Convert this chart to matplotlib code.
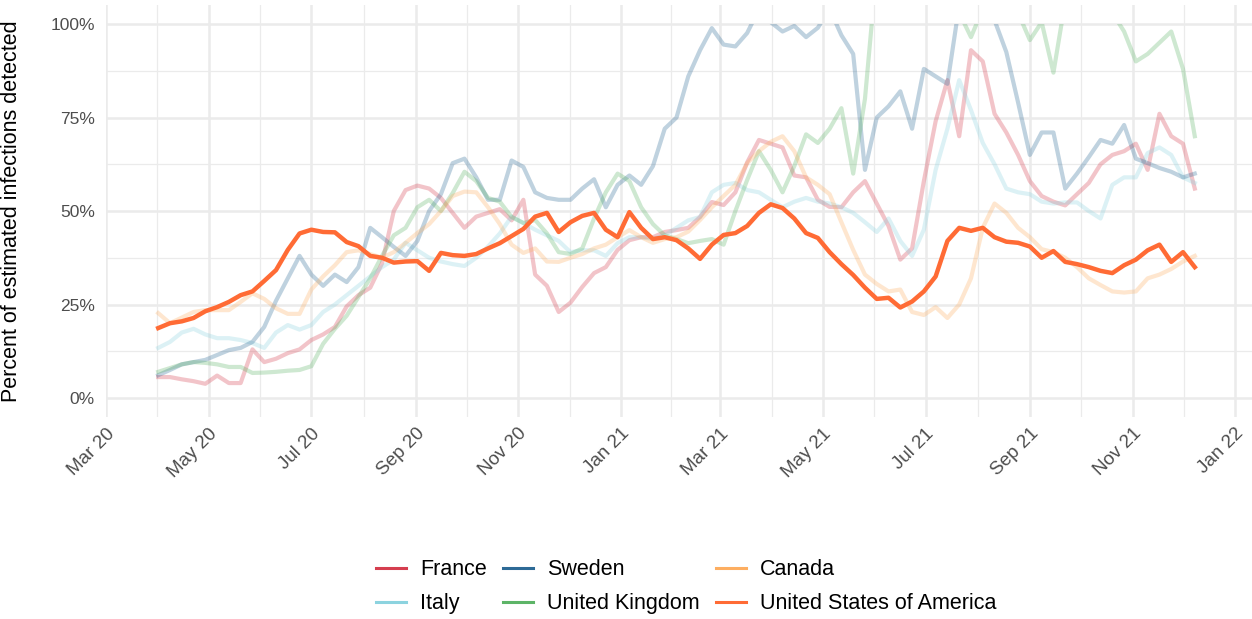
import numpy as np
import pandas as pd
import matplotlib
matplotlib.use('Agg')
import matplotlib.pyplot as plt
import matplotlib.dates as mdates
import matplotlib.transforms as mtransforms
from matplotlib.patches import Rectangle
from matplotlib.lines import Line2D

plt.rcParams['font.family'] = ['Liberation Sans', 'DejaVu Sans']

# weekly values, percent of estimated infections detected
dates = pd.date_range('2020-04-01', periods=89, freq='7D')

france = [5.6, 5.6, 5, 4.5, 3.8, 6, 4, 4, 13, 9.6,
          10.5, 12, 13, 15.5, 17, 19, 24.5, 27.5, 29.5, 36,
          50, 55.6, 56.8, 56, 53.5, 49.5, 45.5, 48.5, 49.5, 50.5,
          47.5, 53, 33, 30, 23, 25.5, 29.7, 33.4, 35, 39.6,
          42.2, 43, 43, 44.4, 44.9, 45.5, 48.4, 52.4, 51.6, 55,
          63, 69, 68, 67, 59.5, 59, 53, 51.1, 51, 55,
          58, 52, 46, 37, 40, 58, 74, 85, 70, 93,
          90, 76, 71, 65, 58, 54, 52.5, 51.5, 54.5, 57.5,
          62.5, 65, 66, 68, 61, 76, 70, 68, 56]

italy = [13.4, 15, 17.5, 18.5, 17, 16, 16, 15.5, 14.7, 13.4,
         17.5, 19.5, 18.3, 19.5, 23, 25, 27.5, 30, 32.5, 35,
         37, 41.5, 39.5, 37.5, 36.5, 35.8, 35.3, 37.5, 40.5, 44,
         48.5, 46.8, 45, 43.5, 42, 39, 39.5, 39.5, 38, 41.4,
         43, 43, 42.5, 43.5, 45.5, 47.5, 48.4, 55, 57, 57.5,
         55.6, 55, 53, 51, 52.5, 53.5, 52.5, 52, 51, 49.5,
         47, 44.4, 48, 42, 38, 45, 61, 72, 85, 77,
         68.2, 62.5, 56, 55, 54.5, 52.5, 52, 52.3, 52.3, 50,
         48, 57, 59, 59, 65.5, 67, 65, 59, 57.5]

# values above 100 are cut off at the top of the panel
sweden = [6.1, 7.5, 9, 9.6, 10.2, 11.5, 12.8, 13.4, 15, 19,
          26, 32, 38, 33, 30, 33, 31, 35, 45.5, 43,
          40.4, 38, 42, 50, 54.5, 62.8, 64, 59, 53, 53,
          63.5, 61.8, 55, 53.5, 53, 53, 56, 58.5, 51, 57,
          59.5, 57, 62, 72, 75, 86, 93, 98.9, 94.5, 94,
          97.6, 104, 100.5, 98, 99.5, 96.5, 99, 104, 97, 92,
          61, 75, 78, 82, 72, 88, 86, 84, 105, 115,
          110, 101, 92.5, 79, 65, 71, 71, 56, 60, 64.4,
          69, 68, 73, 64, 62.8, 61.5, 60.5, 59, 60]

uk = [7, 8, 9, 9.6, 9.4, 9, 8.3, 8.3, 6.7, 6.8,
      7, 7.3, 7.5, 8.5, 14.5, 18.5, 22, 27, 32, 38,
      43.5, 45.5, 51, 53, 50, 54.8, 60.5, 58, 53.5, 52.5,
      48.4, 46.8, 47.6, 44, 39, 38.5, 40, 48, 55, 60,
      58, 51, 46.5, 43.5, 42.5, 41.4, 42, 42.5, 41, 50,
      58.3, 66, 61, 55, 62, 70.5, 68.2, 72, 77.5, 60,
      80, 115, 120, 120, 120, 115, 110, 105, 103, 96.5,
      104, 110, 104, 103, 95.7, 100.5, 87, 106, 115, 115,
      110, 103, 98, 90, 92, 95, 98, 88, 70]

canada = [22.7, 20, 21.5, 23, 23.5, 23.5, 23.5, 25.7, 28, 26.5,
          24, 22.5, 22.5, 29, 32.5, 35.5, 39, 39.5, 38.5, 37.5,
          39, 41.5, 44.1, 46.5, 50, 54, 55.2, 55, 51, 46.5,
          41, 38.8, 40, 36.5, 36.4, 37.5, 38.5, 40, 41, 43,
          44.9, 43, 41.5, 42.5, 43, 44.5, 47.6, 51, 54, 57,
          62.8, 66, 68.5, 70, 66, 59, 57, 54.5, 47, 39.6,
          33, 30.5, 28.5, 29, 23, 22.2, 24.3, 21.4, 25, 32,
          45.5, 52, 49.5, 45.5, 43, 39.8, 39, 37.5, 35, 32,
          30.2, 28.5, 28.2, 28.5, 32, 33, 34.5, 36.5, 38]

usa = [18.7, 20, 20.5, 21.4, 23.2, 24.3, 25.7, 27.5, 28.5, 31.3,
       34.2, 39.6, 44, 45, 44.4, 44.3, 41.7, 40.6, 38, 37.5,
       36.2, 36.5, 36.6, 34, 38.8, 38.2, 38, 38.5, 40, 41.4,
       43.3, 45.2, 48.5, 49.5, 44.4, 47, 48.7, 49.5, 45, 43,
       49.7, 45.5, 42.5, 43, 42.2, 40, 37.2, 41, 43.6, 44.1,
       46, 49.5, 51.8, 50.8, 48, 44.1, 42.8, 39, 35.8, 32.9,
       29.5, 26.5, 26.8, 24.2, 25.8, 28.5, 32.5, 42, 45.5, 44.7,
       45.5, 43, 41.8, 41.5, 40.5, 37.5, 39.3, 36.4, 35.8, 35,
       34, 33.4, 35.5, 37, 39.5, 41, 36.4, 39, 35]

countries = ['France', 'Italy', 'Sweden', 'United Kingdom', 'Canada', 'United States of America']
series = [france, italy, sweden, uk, canada, usa]
colors = ['#D53E4F', '#8CD3DF', '#2D6A96', '#5DB467', '#FDAE61', '#FF6B35']

fig = plt.figure(figsize=(12.52, 6.19), dpi=100)
ax = fig.add_axes([0.0847, 0.3268, 0.9153, 0.6646])

# lines are cut at 100% like the original panel limits
clip_trans = mtransforms.blended_transform_factory(ax.transAxes, ax.transData)
clip_rect = Rectangle((0, -10), 1, 110, transform=clip_trans, facecolor='none', edgecolor='none')
ax.add_patch(clip_rect)

for name, vals, col in zip(countries, series, colors):
    if name == 'United States of America':
        line, = ax.plot(dates, vals, color=col, lw=3.2, zorder=5)
    else:
        line, = ax.plot(dates, vals, color=col, lw=3.0, alpha=0.3, zorder=3)
    line.set_clip_path(clip_rect)

# axes
xmin = pd.Timestamp('2020-03-01')
xmax = pd.Timestamp('2022-01-11')
ax.set_xlim(xmin, xmax)
ax.set_ylim(-5, 105)

major = pd.date_range('2020-03-01', '2022-01-01', freq='2MS')
minor = [major[i] + (major[i + 1] - major[i]) / 2 for i in range(len(major) - 1)]
ax.set_xticks(major)
ax.set_xticks(minor, minor=True)
ax.xaxis.set_major_formatter(mdates.DateFormatter('%b %y'))
ax.set_yticks([0, 25, 50, 75, 100])
ax.set_yticks([12.5, 37.5, 62.5, 87.5], minor=True)
ax.set_yticklabels(['0%', '25%', '50%', '75%', '100%'])

ax.grid(True, which='major', color='#EBEBEB', lw=1.8)
ax.grid(True, which='minor', color='#EBEBEB', lw=0.9)
ax.set_axisbelow(True)
for s in ax.spines.values():
    s.set_visible(False)
ax.tick_params(which='both', length=0)
ax.tick_params(axis='y', labelsize=12.5, labelcolor='#4D4D4D', pad=8)
ax.tick_params(axis='x', labelsize=13.5, labelcolor='#4D4D4D', pad=6)
for lab in ax.get_xticklabels():
    lab.set_rotation(45)
    lab.set_ha('right')
    lab.set_va('top')
    lab.set_rotation_mode('anchor')

ax.set_ylabel('Percent of estimated infections detected', fontsize=15.5)
ax.yaxis.set_label_coords(-0.0733, 0.5)

handles = [Line2D([0], [0], color=c, lw=2.2) for c in colors]
fig.legend(handles, countries, ncol=3, loc='center', bbox_to_anchor=(0.548, 0.052),
           frameon=False, fontsize=15.5, handlelength=1.4, handletextpad=0.65,
           columnspacing=0.75, labelspacing=0.6)

fig.savefig('out.png', dpi=100)
